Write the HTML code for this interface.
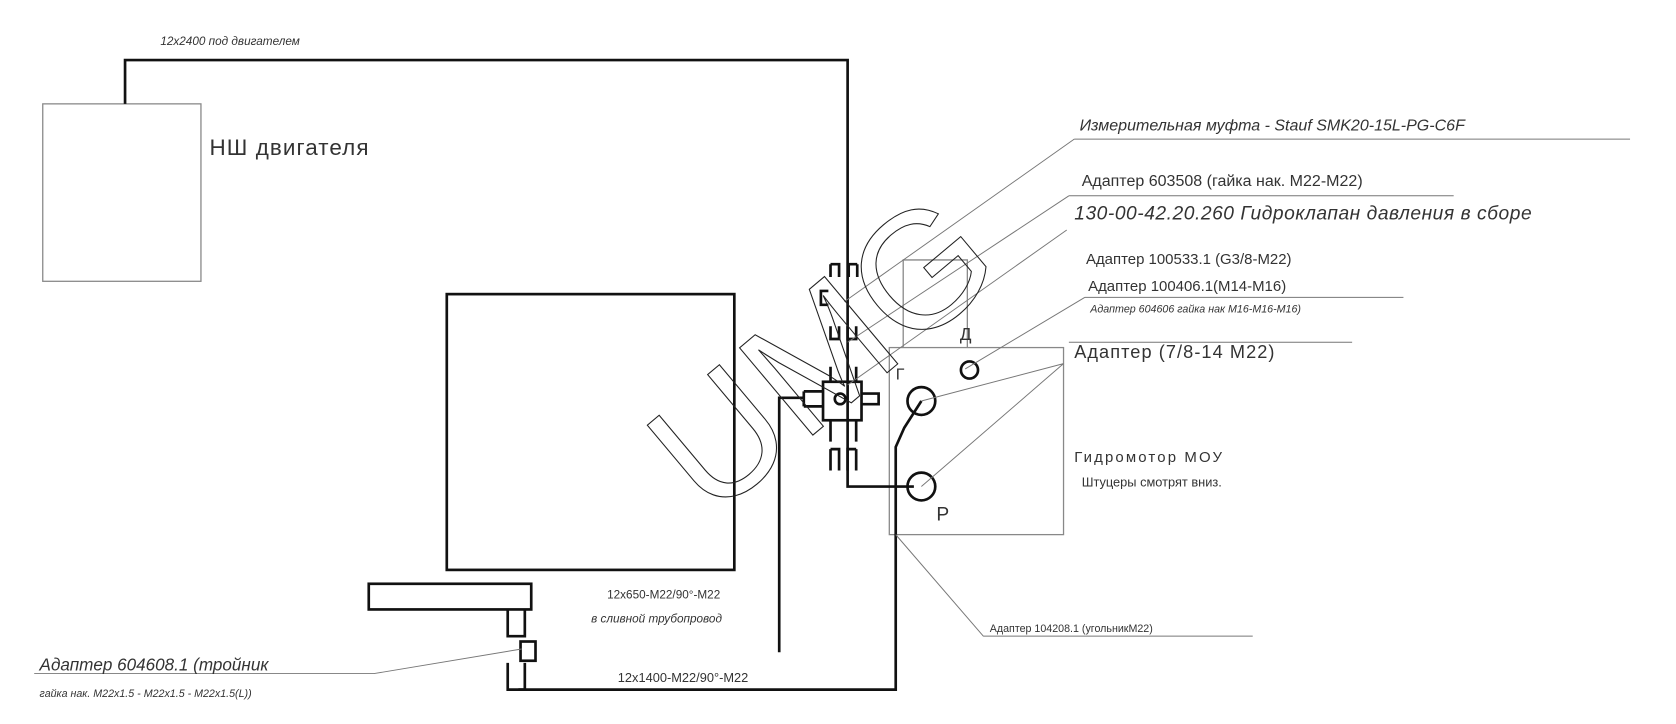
<!DOCTYPE html>
<html><head><meta charset="utf-8"><style>html,body{margin:0;padding:0;background:#fff}svg{display:block}</style></head>
<body>
<svg width="1676" height="724" viewBox="0 0 1568 677" xmlns="http://www.w3.org/2000/svg" font-family="Liberation Sans, DejaVu Sans, sans-serif">
<rect width="1568" height="677" fill="#fff"/>
<g fill="none" stroke="#888" stroke-width="1.2">
<rect x="40" y="97" width="148" height="166"/>
<rect x="832" y="325" width="163" height="175"/>
<polyline points="845,325 845,243 905,243 905,325"/>
</g>
<g fill="none" stroke="#111" stroke-width="2.5">
<rect x="418" y="275" width="269" height="258"/>
<rect x="345" y="546" width="152" height="24"/>
<polyline points="117,97 117,56 793,56 793,455 855,455"/>
<polyline points="862,375 846,400 838,418 838,645 485,645"/>
<polyline points="729,610 729,372 752,372"/>
<rect x="770" y="357" width="36" height="36"/>
<circle cx="786" cy="373" r="5"/>
<path d="M752 366h18M752 380h18M752 366v14"/>
<path d="M806 368h16v10h-16"/>
<path d="M777 247h8v12M802 247h-8v12M777 247v12M802 247v12"/>
<path d="M775 272h-7v13h7"/>
<path d="M785 305v12h-8v-12M801 305v12h-8v-12"/>
<path d="M777 343v14M801 343v14"/>
<path d="M777 393v20M801 393v20"/>
<path d="M777 420h8v20M801 420h-8v20M777 420v20M801 420v20"/>
<path d="M475 570v25h16v-25"/>
<path d="M475 620v25h16v-25"/>
<rect x="487" y="600" width="14" height="18"/>
<circle cx="907" cy="346" r="8"/>
<circle cx="862" cy="375" r="13"/>
<circle cx="862" cy="455" r="13"/>
</g>
<g fill="none" stroke="#777" stroke-width="0.9">
<path d="M1005 130H1525M1005 130L790 282"/>
<path d="M1000 183H1360M1000 183L793 320"/>
<path d="M998 215L793 360"/>
<path d="M1015 278H1313M1015 278L903 345"/>
<path d="M1000 320H1265M995 340L862 375M995 340L862 455"/>
<path d="M920 595H1172M920 595L838 500"/>
<path d="M32 630H350L488 607"/>
</g>
<text x="0" y="0" transform="translate(665,487) rotate(-40)" font-size="155" fill="none" stroke="#222" stroke-width="1">UMG</text>
<g fill="#333" font-style="italic">
<text x="150" y="42" font-size="11">12x2400 под двигателем</text>
<text x="196" y="145" font-size="21" font-style="normal" letter-spacing="1">НШ двигателя</text>
<text x="1010" y="122" font-size="15">Измерительная муфта - Stauf  SMK20-15L-PG-C6F</text>
<text x="1012" y="174" font-size="15" font-style="normal">Адаптер 603508 (гайка нак. М22-М22)</text>
<text x="1005" y="205" font-size="18" letter-spacing="0.5">130-00-42.20.260 Гидроклапан давления в сборе</text>
<text x="1016" y="247" font-size="14" font-style="normal">Адаптер 100533.1 (G3/8-M22)</text>
<text x="1018" y="272" font-size="14" font-style="normal">Адаптер 100406.1(M14-M16)</text>
<text x="1020" y="292" font-size="10">Адаптер 604606 гайка нак М16-М16-М16)</text>
<text x="1005" y="335" font-size="17" font-style="normal" letter-spacing="1">Адаптер (7/8-14 M22)</text>
<text x="1005" y="432" font-size="14" font-style="normal" letter-spacing="2">Гидромотор МОУ</text>
<text x="1012" y="455" font-size="12" font-style="normal">Штуцеры смотрят вниз.</text>
<text x="838" y="355" font-size="15" font-style="normal">Г</text>
<text x="898" y="318" font-size="16" font-style="normal">Д</text>
<text x="876" y="487" font-size="18" font-style="normal">P</text>
<text x="926" y="591" font-size="10" font-style="normal">Адаптер 104208.1 (угольникМ22)</text>
<text x="568" y="560" font-size="11" font-style="normal">12x650-M22/90°-M22</text>
<text x="553" y="582" font-size="11">в сливной трубопровод</text>
<text x="578" y="638" font-size="12" font-style="normal">12x1400-M22/90°-M22</text>
<text x="37" y="627" font-size="16">Адаптер 604608.1 (тройник</text>
<text x="37" y="652" font-size="10">гайка нак. М22х1.5 - М22х1.5 - М22х1.5(L))</text>
</g>
</svg>
</body></html>
